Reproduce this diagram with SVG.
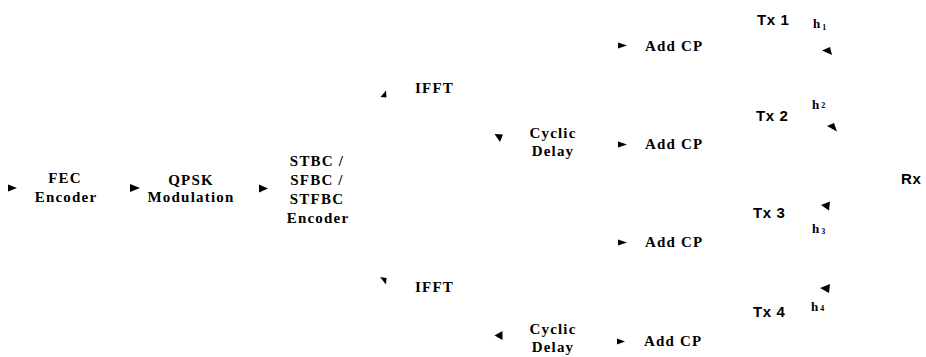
<svg xmlns="http://www.w3.org/2000/svg" width="926" height="357" viewBox="0 0 926 357">
<style>
  .lbl { font-family: "Liberation Serif", "Times New Roman", serif; font-weight: bold; font-size: 15px; letter-spacing: 1.2px; fill: #000; }
  .mid { text-anchor: middle; }
  .tx { font-family: "Liberation Sans", Arial, sans-serif; font-weight: bold; font-size: 15px; letter-spacing: 0.6px; fill: #000; }
  .h { font-family: "Liberation Serif", "Times New Roman", serif; font-weight: bold; font-size: 13px; fill: #000; }
  .sub { font-size: 8px; }
  .ah { fill: #000; stroke: none; }
</style>
<rect width="926" height="357" fill="#fff"/>
<g id="connectors">
  <polygon class="ah" points="8,184.5 17,188 8,191.5"/>
  <polygon class="ah" points="130,184 140,188 130,192"/>
  <polygon class="ah" points="259,184.5 268,188.5 259,192.5"/>
  <polygon class="ah" points="386,90.5 380.5,97 386.5,97.5"/>
  <polygon class="ah" points="494.5,134 503,134.5 500,142"/>
  <polygon class="ah" points="380,277 386.5,278 386,284.5"/>
  <polygon class="ah" points="494.5,335.5 502.5,331 502.5,340"/>
  <polygon class="ah" points="618,42.5 627,45.5 618,48.5"/>
  <polygon class="ah" points="618,141.5 627,144.5 618,147.5"/>
  <polygon class="ah" points="618,239.5 627,242.5 618,245.5"/>
  <polygon class="ah" points="617,338.5 625,341.5 617,344.5"/>
  <polygon class="ah" points="822,50.5 830,47 832,55"/>
  <polygon class="ah" points="827,126 834,123 837,131.5"/>
  <polygon class="ah" points="821,205 830,201.5 829,210.5"/>
  <polygon class="ah" points="820,288 830,284 829,293"/>
</g>
<g id="fec">
  <text class="lbl mid" x="65" y="183">FEC</text>
  <text class="lbl mid" x="66" y="202">Encoder</text>
</g>
<g id="qpsk">
  <text class="lbl mid" x="191" y="185">QPSK</text>
  <text class="lbl mid" x="191" y="202">Modulation</text>
</g>
<g id="stbc">
  <text class="lbl mid" x="317" y="166">STBC /</text>
  <text class="lbl mid" x="317" y="185">SFBC /</text>
  <text class="lbl mid" x="317" y="204">STFBC</text>
  <text class="lbl mid" x="318" y="223">Encoder</text>
</g>
<g id="ifft1">
  <text class="lbl" x="415" y="93">IFFT</text>
</g>
<g id="ifft2">
  <text class="lbl" x="415" y="292">IFFT</text>
</g>
<g id="delay1">
  <text class="lbl mid" x="553" y="138">Cyclic</text>
  <text class="lbl mid" x="553" y="156">Delay</text>
</g>
<g id="delay2">
  <text class="lbl mid" x="553" y="334">Cyclic</text>
  <text class="lbl mid" x="553" y="352">Delay</text>
</g>
<g id="addcp1"><text class="lbl" x="645" y="51">Add CP</text></g>
<g id="addcp2"><text class="lbl" x="645" y="149">Add CP</text></g>
<g id="addcp3"><text class="lbl" x="645" y="247">Add CP</text></g>
<g id="addcp4"><text class="lbl" x="644" y="346">Add CP</text></g>
<g id="tx1"><text class="tx" x="757" y="25">Tx 1</text></g>
<g id="tx2"><text class="tx" x="756" y="121">Tx 2</text></g>
<g id="tx3"><text class="tx" x="753" y="218">Tx 3</text></g>
<g id="tx4"><text class="tx" x="753" y="317">Tx 4</text></g>
<g id="h1"><text class="h" x="813" y="28">h<tspan class="sub" dx="2" dy="2">1</tspan></text></g>
<g id="h2"><text class="h" x="812" y="109">h<tspan class="sub" dx="2" dy="-1">2</tspan></text></g>
<g id="h3"><text class="h" x="812" y="233">h<tspan class="sub" dx="2" dy="1">3</tspan></text></g>
<g id="h4"><text class="h" x="811" y="311">h<tspan class="sub" dx="2" dy="0">4</tspan></text></g>
<g id="rx"><text class="tx" x="901" y="184">Rx</text></g>
</svg>
